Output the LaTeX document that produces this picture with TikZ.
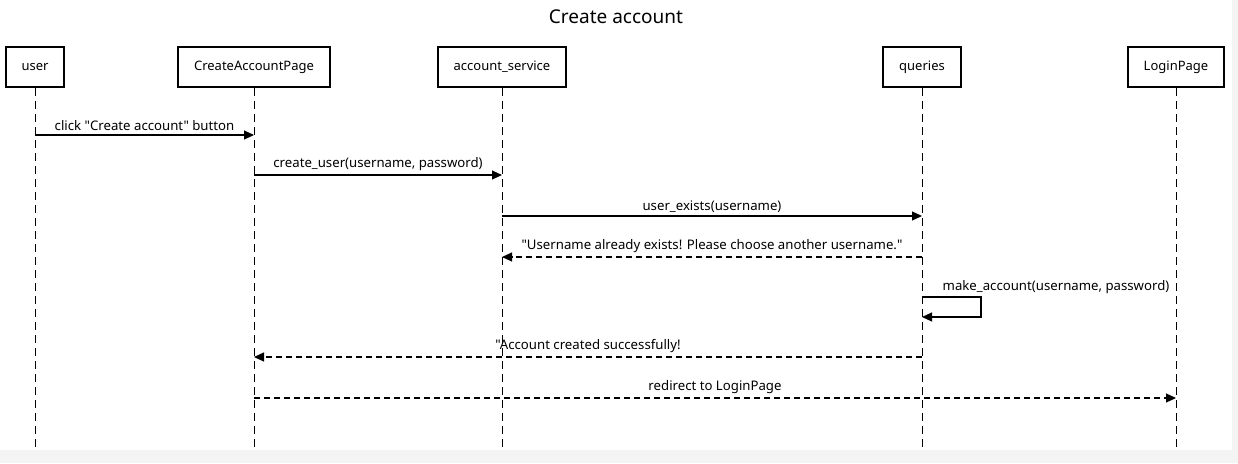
\documentclass[tikz,border=0pt]{standalone}
\usepackage{fontspec}
\setmainfont{Noto Sans}[Ligatures=TeXOff]
\usetikzlibrary{arrows.meta}
\definecolor{panelgray}{RGB}{244,244,244}

\begin{document}
\begin{tikzpicture}[x=1pt,y=-1pt,
   every node/.style={font=\fontsize{13.2}{16}\selectfont},
   actor/.style={draw,line width=2pt,minimum height=40pt,inner xsep=16pt,fill=white,
      font=\fontsize{13}{16}\selectfont},
   lifeline/.style={line width=0.9pt,dash pattern=on 8pt off 5pt},
   msg/.style={line width=1.1pt,-{Triangle[length=10pt,width=9pt]}},
   reply/.style={msg,dash pattern=on 6pt off 4pt}]

\useasboundingbox (0,0) rectangle (1238,463);
\fill[panelgray] (0,0) rectangle (1238,463);
\fill[white] (0,0) rectangle (1232,450);

\node[font=\fontsize{19}{22}\selectfont] (title) at (616,17) {Create account};

\node[actor] (user)  at (35,67)   {user};
\node[actor] (cap)   at (254,67)  {CreateAccountPage};
\node[actor] (svc)   at (502,67)  {account\_service};
\node[actor] (qry)   at (922,67)  {queries};
\node[actor] (login) at (1176,67) {LoginPage};

\coordinate (bottom) at (0,450);
\foreach \n in {user,cap,svc,qry,login}
   \draw[lifeline] (\n.south) -- (\n |- bottom);

\coordinate (y1) at (0,135);
\coordinate (y2) at (0,175);
\coordinate (y3) at (0,216);
\coordinate (y4) at (0,257);
\coordinate (y5) at (0,297);
\coordinate (y6) at (0,317);
\coordinate (y7) at (0,357);
\coordinate (y8) at (0,398);

\draw[msg] (user |- y1) -- node[above] {click "Create account" button} (cap |- y1);
\draw[msg] (cap |- y2) -- node[above] {create\_user(username, password)} (svc |- y2);
\draw[msg] (svc |- y3) -- node[above] {user\_exists(username)} (qry |- y3);
\draw[reply] (qry |- y4) -- node[above] {"Username already exists! Please choose another username."} (svc |- y4);
\draw[msg] (qry |- y5) -- ++(59,0) |- (qry |- y6);
\node (selflabel) at (1056,287) {make\_account(username, password)};
\draw[reply] (qry |- y7) -- node[above] {"Account created successfully!} (cap |- y7);
\draw[reply] (cap |- y8) -- node[above] {redirect to LoginPage} (login |- y8);

\end{tikzpicture}
\end{document}
